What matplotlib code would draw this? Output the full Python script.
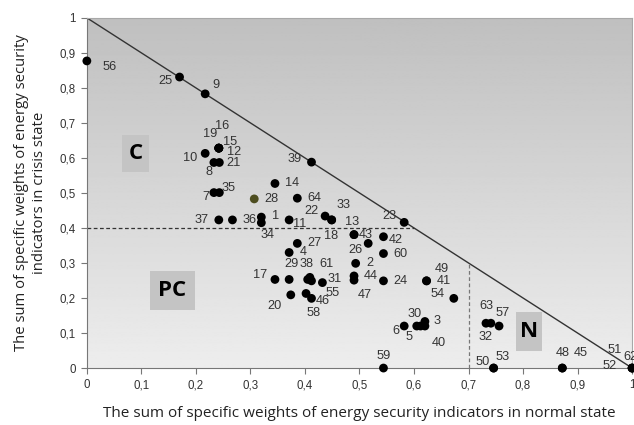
import numpy as np
import matplotlib.pyplot as plt
from matplotlib.patches import Rectangle

# point number, normal-state sum (x), crisis-state sum (y)
labels = ['56', '25', '9', '10', '15', '12', '16', '19', '8', '21',
          '7', '35', '28', '37', '36', '1', '34', '14', '64', '11',
          '39', '22', '33', '13', '23', '18', '43', '42', '26', '60',
          '27', '4', '2', '17', '29', '38', '61', '55', '31', '44',
          '47', '20', '46', '58', '24', '49', '41', '54', '6', '5',
          '30', '3', '40', '59', '63', '32', '57', '50', '53', '48',
          '45', '51', '52', '62']
x_normal = [0.0, 0.17, 0.217, 0.217, 0.242, 0.242, 0.242, 0.242, 0.233, 0.243,
            0.233, 0.243, 0.307, 0.242, 0.267, 0.32, 0.32, 0.345, 0.386, 0.371,
            0.412, 0.437, 0.449, 0.449, 0.582, 0.49, 0.49, 0.544, 0.516, 0.544,
            0.386, 0.371, 0.493, 0.345, 0.371, 0.405, 0.409, 0.412, 0.432, 0.49,
            0.49, 0.374, 0.402, 0.412, 0.544, 0.623, 0.623, 0.673, 0.582, 0.605,
            0.612, 0.62, 0.62, 0.544, 0.732, 0.741, 0.756, 0.746, 0.746, 0.872,
            0.872, 1.0, 1.0, 1.0]
y_crisis = [0.877, 0.831, 0.783, 0.613, 0.628, 0.628, 0.628, 0.628, 0.587, 0.587,
            0.501, 0.501, 0.483, 0.423, 0.423, 0.431, 0.415, 0.527, 0.485, 0.423,
            0.588, 0.434, 0.423, 0.423, 0.416, 0.381, 0.381, 0.375, 0.356, 0.327,
            0.356, 0.33, 0.299, 0.253, 0.253, 0.253, 0.259, 0.249, 0.244, 0.263,
            0.251, 0.209, 0.213, 0.199, 0.249, 0.249, 0.249, 0.199, 0.12, 0.12,
            0.12, 0.133, 0.12, 0.0, 0.128, 0.128, 0.12, 0.0, 0.0, 0.0,
            0.0, 0.0, 0.0, 0.0]

zones = ['C', 'PC', 'N']

# where each number sits relative to its dot (pixels)
offs = {'56': (23, -6), '25': (-14, -4), '9': (11, 9), '10': (-15, -5),
        '15': (11, 6), '12': (15, -4), '16': (3, 22), '19': (-9, 14),
        '8': (-5, -10), '21': (14, -1), '7': (-8, -4), '35': (9, 5),
        '28': (17, 0), '37': (-17, 0), '36': (17, 0), '1': (14, 1),
        '34': (6, -12), '14': (17, 0), '64': (17, 0), '11': (10, -4),
        '39': (-17, 3), '22': (-14, 5), '33': (12, 15), '13': (20, -2),
        '23': (-15, 6), '18': (-23, -1), '43': (12, 0), '42': (12, -3),
        '26': (-13, -7), '60': (17, 0), '27': (17, 0), '4': (14, 0),
        '2': (14, 0), '17': (-15, 4), '29': (2, 15), '38': (-1, 15),
        '61': (17, 13), '55': (21, -12), '31': (12, 4), '44': (17, 0),
        '47': (11, -15), '20': (-16, -11), '46': (17, -8), '58': (2, -15),
        '24': (17, 0), '49': (15, 12), '41': (17, 0), '54': (-16, 4),
        '6': (-8, -5), '5': (-8, -11), '30': (-6, 12), '3': (12, 0),
        '40': (14, -17), '59': (0, 12), '63': (0, 17), '32': (-5, -14),
        '57': (4, 13), '50': (-11, 6), '53': (9, 11), '48': (0, 15),
        '45': (19, 15), '51': (-17, 18), '52': (-22, 2), '62': (-2, 11)}

# zone boxes: x0, x1, y0, y1 in axes units
zone_box = {'C': (0.064, 0.114, 0.56, 0.666),
            'PC': (0.116, 0.198, 0.166, 0.277),
            'N': (0.787, 0.834, 0.049, 0.161)}

fig = plt.figure(figsize=(6.34, 4.25), dpi=100)
ax = fig.add_axes([0.137, 0.134, 0.86, 0.824])

# grey gradient background, darker at the top
grad = np.linspace(0.93, 0.75, 256).reshape(-1, 1)
ax.imshow(grad, extent=[0, 1, 0, 1], origin='lower', cmap='gray',
          vmin=0, vmax=1, aspect='auto', zorder=0)

ax.plot([0, 1], [1, 0], color='#333333', lw=1.0, zorder=2)
ax.plot([0, 0.6], [0.4, 0.4], color='#333333', lw=0.9, ls=(0, (3, 2)), zorder=2)
ax.plot([0.7, 0.7], [0, 0.3], color='#777777', lw=0.9, ls=(0, (3, 2)), zorder=2)

cols = ['#4d4d1f' if l == '28' else 'black' for l in labels]
ax.scatter(x_normal, y_crisis, s=40, c=cols, zorder=4, clip_on=False,
           edgecolors='none')

for l, xv, yv in zip(labels, x_normal, y_crisis):
    dx, dy = offs[l]
    ax.annotate(l, (xv, yv), xytext=(dx, dy), textcoords='offset pixels',
                ha='center', va='center', fontsize=9.2, color='#333333',
                family='Liberation Sans', zorder=5)

for z in zones:
    x0, x1, y0, y1 = zone_box[z]
    ax.add_patch(Rectangle((x0, y0), x1 - x0, y1 - y0, fc='#c4c4c4',
                           ec='none', zorder=3))
    ax.text((x0 + x1) / 2, (y0 + y1) / 2, z, fontsize=16, fontweight='bold',
            family='Open Sans', ha='center', va='center', zorder=3)

ax.set_xlim(0, 1)
ax.set_ylim(0, 1)
ticks = np.arange(0, 1.01, 0.1)
ticklab = ['0'] + ['0,%d' % i for i in range(1, 10)] + ['1']
ax.set_xticks(ticks)
ax.set_xticklabels(ticklab)
ax.set_yticks(ticks)
ax.set_yticklabels(ticklab)
for t in ax.get_xticklabels() + ax.get_yticklabels():
    t.set_family('Liberation Sans')
    t.set_fontsize(8.3)
    t.set_color('#333333')
ax.tick_params(length=4, color='#777777', pad=4)

for side in ['top', 'right']:
    ax.spines[side].set_color('#a8a8a8')
for side in ['left', 'bottom']:
    ax.spines[side].set_color('#777777')

ax.set_xlabel('The sum of specific weights of energy security indicators in normal state',
              family='Open Sans', fontsize=11, color='#222222', labelpad=11)
ax.set_ylabel('The sum of specific weights of energy security\nindicators in crisis state',
              family='Open Sans', fontsize=10.7, color='#222222', labelpad=9,
              linespacing=1.25)

fig.savefig('out.png', dpi=100)
